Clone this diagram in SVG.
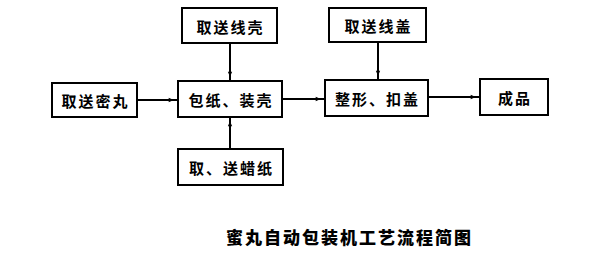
<svg xmlns="http://www.w3.org/2000/svg" width="607" height="270" viewBox="0 0 607 270">
<style>
.box{fill:#fff;stroke:#000;stroke-width:2}
.t{font-family:"Noto Sans CJK SC",sans-serif;font-size:15px;font-weight:bold;text-anchor:middle;dominant-baseline:central;letter-spacing:2px}
.c{stroke:#000;stroke-width:2;fill:none;marker-end:url(#a)}
.title{font-family:"Noto Sans CJK SC",sans-serif;font-size:17px;font-weight:900;letter-spacing:2px;dominant-baseline:central}
</style>
<defs>
<marker id="a" markerWidth="10" markerHeight="8" refX="13" refY="4" orient="auto" markerUnits="userSpaceOnUse" viewBox="0 0 14 8" overflow="visible">
<path d="M0,1 L7,4 L0,7 Z" fill="#000"/>
</marker>
</defs>
<rect width="607" height="270" fill="#fff"/>
<g id="connectors">
<line class="c" x1="138" y1="100" x2="178" y2="100"/>
<line class="c" x1="230" y1="43" x2="230" y2="81"/>
<line class="c" x1="230" y1="149" x2="230" y2="117"/>
<line class="c" x1="282" y1="99" x2="325" y2="99"/>
<line class="c" x1="378" y1="42" x2="378" y2="80"/>
<line class="c" x1="428" y1="97" x2="480" y2="97"/>
</g>
<g id="n1"><rect class="box" x="182" y="8" width="95" height="35"/><text class="t" x="230.5" y="26">取送线壳</text></g>
<g id="n2"><rect class="box" x="52" y="83" width="85" height="34"/><text class="t" x="95.5" y="100">取送密丸</text></g>
<g id="n3"><rect class="box" x="178" y="81" width="104" height="36"/><text class="t" x="231" y="99">包纸、装壳</text></g>
<g id="n4"><rect class="box" x="329" y="8" width="97" height="34"/><text class="t" x="378.5" y="25">取送线盖</text></g>
<g id="n5"><rect class="box" x="325" y="80" width="103" height="36"/><text class="t" x="377.5" y="98">整形、扣盖</text></g>
<g id="n6"><rect class="box" x="480" y="79" width="68" height="36"/><text class="t" x="515" y="97">成品</text></g>
<g id="n7"><rect class="box" x="178" y="149" width="105" height="36"/><text class="t" x="231.5" y="167">取、送蜡纸</text></g>
<text class="title" x="226" y="236">蜜丸自动包装机工艺流程简图</text>
</svg>
